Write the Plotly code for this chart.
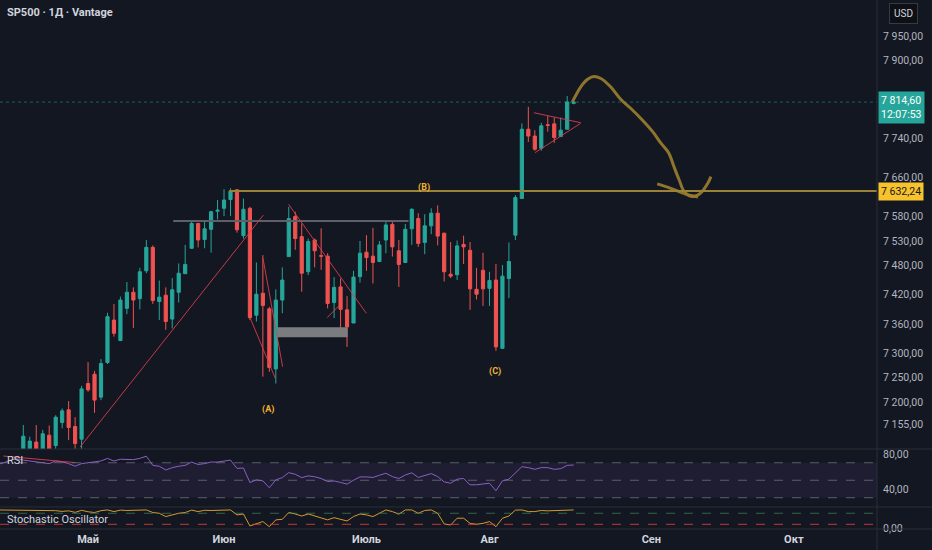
import plotly.graph_objects as go

BG = "#131722"
UP = "#26a69a"
DOWN = "#ef5350"

# дневные свечи, индекс бара (торговый день)
bar_idx = list(range(-4, 86))
opens = [7050, 7062, 7085, 7078,
         7098, 7100, 7118, 7100, 7132, 7111, 7158, 7184, 7150, 7124,
         7238, 7257, 7210, 7281, 7368, 7326, 7392, 7425, 7412, 7469,
         7517, 7406, 7419, 7370, 7425, 7463, 7515, 7566, 7533, 7554,
         7591, 7597, 7615, 7635, 7541, 7597, 7378, 7423, 7391, 7268,
         7409, 7498, 7580, 7539, 7467, 7532, 7500, 7499, 7404, 7436,
         7389, 7362, 7457, 7507, 7499, 7488, 7532, 7564, 7510, 7486,
         7555, 7576, 7527, 7561, 7587, 7546, 7462, 7461, 7523, 7511,
         7431, 7470, 7433, 7450, 7310, 7453, 7542, 7617, 7759, 7745,
         7720, 7768, 7770, 7744, 7759, 7812]
highs = [7070, 7092, 7101, 7100,
         7153, 7129, 7153, 7143, 7152, 7173, 7187, 7202, 7169, 7233,
         7282, 7264, 7288, 7383, 7401, 7416, 7446, 7435, 7475, 7532,
         7521, 7449, 7435, 7454, 7484, 7522, 7570, 7566, 7570, 7592,
         7614, 7636, 7638, 7636, 7617, 7600, 7486, 7501, 7395, 7431,
         7476, 7600, 7590, 7566, 7535, 7535, 7556, 7505, 7456, 7453,
         7417, 7469, 7530, 7542, 7557, 7530, 7570, 7570, 7532, 7565,
         7597, 7587, 7585, 7597, 7603, 7547, 7528, 7531, 7541, 7528,
         7475, 7506, 7467, 7483, 7481, 7527, 7624, 7771, 7805, 7757,
         7772, 7786, 7783, 7783, 7827, 7816]
lows = [7030, 7045, 7070, 7060,
        7090, 7094, 7096, 7095, 7097, 7100, 7146, 7122, 7098, 7100,
        7221, 7178, 7204, 7278, 7334, 7326, 7380, 7352, 7390, 7464,
        7401, 7368, 7348, 7351, 7404, 7463, 7515, 7517, 7515, 7506,
        7574, 7581, 7581, 7547, 7535, 7368, 7365, 7252, 7262, 7238,
        7382, 7498, 7512, 7426, 7460, 7476, 7471, 7392, 7372, 7349,
        7313, 7362, 7445, 7469, 7443, 7488, 7505, 7498, 7436, 7486,
        7522, 7518, 7503, 7544, 7521, 7447, 7454, 7450, 7483, 7389,
        7410, 7397, 7397, 7305, 7310, 7413, 7532, 7617, 7733, 7715,
        7715, 7754, 7731, 7743, 7759, 7810]
closes = [7062, 7085, 7078, 7096,
          7130, 7120, 7102, 7135, 7104, 7169, 7182, 7148, 7115, 7227,
          7225, 7204, 7279, 7375, 7341, 7409, 7425, 7409, 7467, 7517,
          7408, 7415, 7365, 7430, 7464, 7482, 7566, 7532, 7555, 7590,
          7593, 7614, 7632, 7553, 7595, 7373, 7421, 7398, 7271, 7409,
          7450, 7576, 7535, 7464, 7529, 7510, 7499, 7402, 7435, 7390,
          7354, 7456, 7505, 7496, 7486, 7522, 7563, 7518, 7482, 7554,
          7595, 7525, 7561, 7587, 7540, 7467, 7458, 7520, 7518, 7432,
          7421, 7432, 7449, 7313, 7458, 7488, 7619, 7759, 7745, 7718,
          7766, 7767, 7742, 7757, 7815, 7814.6]

rsi = [68, 70, 73, 74.5,
       73, 72, 71, 70, 69, 72, 71, 69, 66, 69,
       70, 71, 72, 75, 72, 74, 74, 73.5, 75, 77.5,
       67, 66, 61.7, 64.4, 66, 67, 70.8, 68, 69, 70.8,
       70.8, 72, 73, 63.6, 64, 47.4, 50.4, 49.3, 41.4, 50.4,
       53, 58.7, 56.8, 53, 55, 54, 52, 48.5, 49.2, 47.5,
       45.5, 50, 53.8, 53.8, 53.2, 55.7, 58, 54.2, 52, 56,
       58.5, 53.2, 55.7, 57.6, 54.2, 48.1, 46.6, 51.2, 52, 44.8,
       44.8, 45.5, 46.6, 38, 49.3, 51.2, 58.7, 65.5, 64.4, 62.5,
       64.4, 64.4, 62.5, 63.2, 67, 67.4]
stoch = [98, 98, 98, 98,
         97, 95, 95, 97, 97, 94, 90, 93, 85, 96,
         88, 84, 94, 98, 89, 97, 95, 95, 97, 98,
         84, 80, 62, 71, 80, 84, 97, 89, 96, 95,
         97, 95, 98, 71, 76, 11, 25, 35, 7, 44,
         47, 84, 76, 65, 76, 65, 58, 44, 56, 47,
         38, 62, 76, 71, 62, 80, 98, 89, 75, 98,
         98, 80, 95, 98, 80, 22, 16, 53, 53, 25,
         20, 25, 35, 7, 53, 65, 97, 98, 89, 89,
         95, 93, 95, 98, 98, 98]

month_pos = [10, 31, 53, 72, 97, 119]
month_names = ["Май", "Июн", "Июль", "Авг", "Сен", "Окт"]

price_ticks = [7155, 7200, 7250, 7300, 7360, 7420, 7480, 7530, 7580, 7660, 7740, 7900, 7950]
last_price = 7814.60
level_price = 7632.24

# рисунки на графике (индекс бара, цена)
curve_x = [84.8, 86.1, 87.1, 88.1, 89.2, 90.7, 92.3, 93.8, 95.6, 97.2, 98.5, 99.7,
           100.5, 101.3, 102.1, 103.4, 104.6, 105.7, 106.2]
curve_y = [7815, 7846, 7861, 7867, 7863, 7846, 7820, 7802, 7778, 7754, 7730, 7710,
           7682, 7655, 7631, 7621, 7628, 7648, 7662]
tail_x = [97.9, 100.0, 102.3, 104.2]
tail_y = [7647, 7638, 7626, 7620]

fig = go.Figure()
fig.add_trace(go.Candlestick(
    x=bar_idx, open=opens, high=highs, low=lows, close=closes,
    increasing=dict(line=dict(color=UP, width=1), fillcolor=UP),
    decreasing=dict(line=dict(color=DOWN, width=1), fillcolor=DOWN),
    whiskerwidth=0, hoverinfo="skip", xaxis="x", yaxis="y",
))
fig.add_trace(go.Scatter(x=curve_x, y=curve_y, mode="lines",
                         line=dict(color="rgba(150,122,45,0.95)", width=3, shape="spline"),
                         hoverinfo="skip", xaxis="x", yaxis="y"))
fig.add_trace(go.Scatter(x=tail_x, y=tail_y, mode="lines",
                         line=dict(color="rgba(150,122,45,0.95)", width=3, shape="spline"),
                         hoverinfo="skip", xaxis="x", yaxis="y"))
fig.add_trace(go.Scatter(x=bar_idx, y=rsi, mode="lines", line=dict(color="#8b5fc6", width=1),
                         hoverinfo="skip", xaxis="x2", yaxis="y2"))
fig.add_trace(go.Scatter(x=bar_idx, y=stoch, mode="lines", line=dict(color="#d39a2c", width=1),
                         hoverinfo="skip", xaxis="x3", yaxis="y3"))

RED = "rgba(220,60,75,0.9)"
shapes = [
    # уровень и текущая цена
    dict(type="line", xref="x", yref="y", x0=31.8, x1=140, y0=level_price, y1=level_price,
         line=dict(color="#9a8236", width=2)),
    dict(type="line", xref="paper", yref="y", x0=0, x1=1, y0=last_price, y1=last_price,
         line=dict(color="rgba(38,166,154,0.5)", width=1, dash="dot")),
    dict(type="line", xref="x", yref="y", x0=23.15, x1=59.5, y0=7571, y1=7571,
         line=dict(color="#5d606b", width=2)),
    dict(type="rect", xref="x", yref="y", x0=39.3, x1=50.1, y0=7332.6, y1=7353.1,
         fillcolor="#7b7c80", line=dict(width=0)),
    # трендовые линии
    dict(type="line", xref="x", yref="y", x0=8.77, y0=7108, x1=37.07, y1=7583, line=dict(color=RED, width=1)),
    dict(type="line", xref="x", yref="y", x0=35.06, y0=7371.6, x1=38.92, y1=7248.6, line=dict(color=RED, width=1)),
    dict(type="line", xref="x", yref="y", x0=37.02, y0=7494.5, x1=40.05, y1=7272.4, line=dict(color=RED, width=1)),
    dict(type="line", xref="x", yref="y", x0=40.98, y0=7605.1, x1=52.99, y1=7381.8, line=dict(color=RED, width=1)),
    dict(type="line", xref="x", yref="y", x0=46.92, y0=7372.8, x1=48.71, y1=7396.8, line=dict(color=RED, width=1)),
    dict(type="line", xref="x", yref="y", x0=78.86, y0=7792.8, x1=86.08, y1=7772.4, line=dict(color=RED, width=1)),
    dict(type="line", xref="x", yref="y", x0=79.02, y0=7710.9, x1=86.08, y1=7771.1, line=dict(color=RED, width=1)),
    # RSI
    dict(type="rect", xref="paper", yref="y2", x0=0, x1=1, y0=30, y1=70,
         fillcolor="rgba(126,87,194,0.1)", line=dict(width=0), layer="below"),
    dict(type="line", xref="x2", yref="y2", x0=-3.1, y0=77.7, x1=8.0, y1=70.1, line=dict(color=RED, width=1)),
]
for lv in (70, 50, 30):
    shapes.append(dict(type="line", xref="paper", yref="y2", x0=0, x1=1, y0=lv, y1=lv,
                       line=dict(color="rgba(120,123,134,0.7)", width=1, dash="dash")))
shapes.append(dict(type="line", xref="paper", yref="y3", x0=0, x1=1, y0=80, y1=80,
                   line=dict(color="rgba(76,150,100,0.6)", width=1, dash="dash")))
shapes.append(dict(type="line", xref="paper", yref="y3", x0=0, x1=1, y0=20, y1=20,
                   line=dict(color="rgba(230,60,60,0.85)", width=1, dash="dash")))
# разделители панелей
for yp in (0.1512, 0.0416, 0.0):
    shapes.append(dict(type="line", xref="paper", yref="paper", x0=0, x1=1.07, y0=yp, y1=yp,
                       line=dict(color="#2a2e39", width=1)))
shapes.append(dict(type="line", xref="paper", yref="paper", x0=1, x1=1, y0=-0.05, y1=1,
                   line=dict(color="#2a2e39", width=1)))

ORANGE = "#f2b430"
annotations = [
    dict(text="<b>SP500 · 1Д · Vantage</b>", xref="paper", yref="paper", x=0.006, y=0.977,
         xanchor="left", yanchor="middle", showarrow=False, font=dict(size=11, color="#d1d4dc")),
    dict(text="RSI", xref="paper", yref="paper", x=0.006, y=0.1304,
         xanchor="left", yanchor="middle", showarrow=False, font=dict(size=11, color="#d1d4dc")),
    dict(text="Stochastic Oscillator", xref="paper", yref="paper", x=0.006, y=0.0189,
         xanchor="left", yanchor="middle", showarrow=False, font=dict(size=11, color="#d1d4dc")),
    dict(text="<b>(A)</b>", xref="x", yref="y", x=37.8, y=7184, showarrow=False,
         font=dict(size=9, color=ORANGE)),
    dict(text="<b>(B)</b>", xref="x", yref="y", x=61.96, y=7639, showarrow=False,
         font=dict(size=9, color=ORANGE)),
    dict(text="<b>(C)</b>", xref="x", yref="y", x=72.9, y=7262, showarrow=False,
         font=dict(size=9, color=ORANGE)),
    dict(text="7 814,60<br>12:07:53", xref="paper", yref="y", x=1.001, y=last_price - 12,
         xanchor="left", yanchor="middle", align="left", showarrow=False, bgcolor=UP,
         borderpad=2, font=dict(size=10.5, color="#ffffff")),
    dict(text="7 632,24", xref="paper", yref="y", x=1.001, y=level_price,
         xanchor="left", yanchor="middle", showarrow=False, bgcolor="#f7c22c",
         borderpad=2, font=dict(size=10.5, color="#131722")),
    dict(text="USD", xref="paper", yref="paper", x=904 / 877, y=1 - 13 / 529,
         xanchor="center", yanchor="middle", showarrow=False, bgcolor="#0e1016",
         bordercolor="#363a45", borderwidth=1, borderpad=4, font=dict(size=10, color="#d1d4dc")),
]

axis_common = dict(showgrid=False, zeroline=False, showline=False)
fig.update_layout(
    width=932, height=550,
    paper_bgcolor=BG, plot_bgcolor=BG,
    margin=dict(l=0, r=55, t=0, b=21, autoexpand=False),
    showlegend=False,
    font=dict(family="Roboto, Noto Sans, DejaVu Sans", size=11, color="#b2b5be"),
    xaxis=dict(range=[-3.6, 131.85], anchor="y", showticklabels=False,
               rangeslider=dict(visible=False), **axis_common),
    xaxis2=dict(matches="x", anchor="y2", showticklabels=False, **axis_common),
    xaxis3=dict(matches="x", anchor="y3", tickvals=month_pos,
                ticktext=[f"<b>{m}</b>" for m in month_names], ticks="",
                tickfont=dict(size=11, color="#d1d4dc"), ticklabelstandoff=2, **axis_common),
    yaxis=dict(domain=[0.1512, 1], range=[7103.8, 8023.8], side="right", anchor="x",
               tickvals=price_ticks,
               ticktext=[f"{p // 1000} {p % 1000:03d},00" for p in price_ticks],
               ticks="", ticklabelstandoff=5, tickfont=dict(size=10.5), **axis_common),
    yaxis2=dict(domain=[0.0416, 0.1512], range=[19.4, 85.7], side="right", anchor="x2",
                tickvals=[80, 40], ticktext=["80,00", "40,00"], ticks="",
                ticklabelstandoff=5, tickfont=dict(size=10.5), **axis_common),
    yaxis3=dict(domain=[0, 0.0416], range=[-5.6, 114], side="right", anchor="x3",
                tickvals=[0], ticktext=["0,00"], ticks="",
                ticklabelstandoff=5, tickfont=dict(size=10.5), **axis_common),
    shapes=shapes,
    annotations=annotations,
)

fig.write_html("out.html", config={"displayModeBar": False},
               post_script="document.body.style.margin = '0';")
